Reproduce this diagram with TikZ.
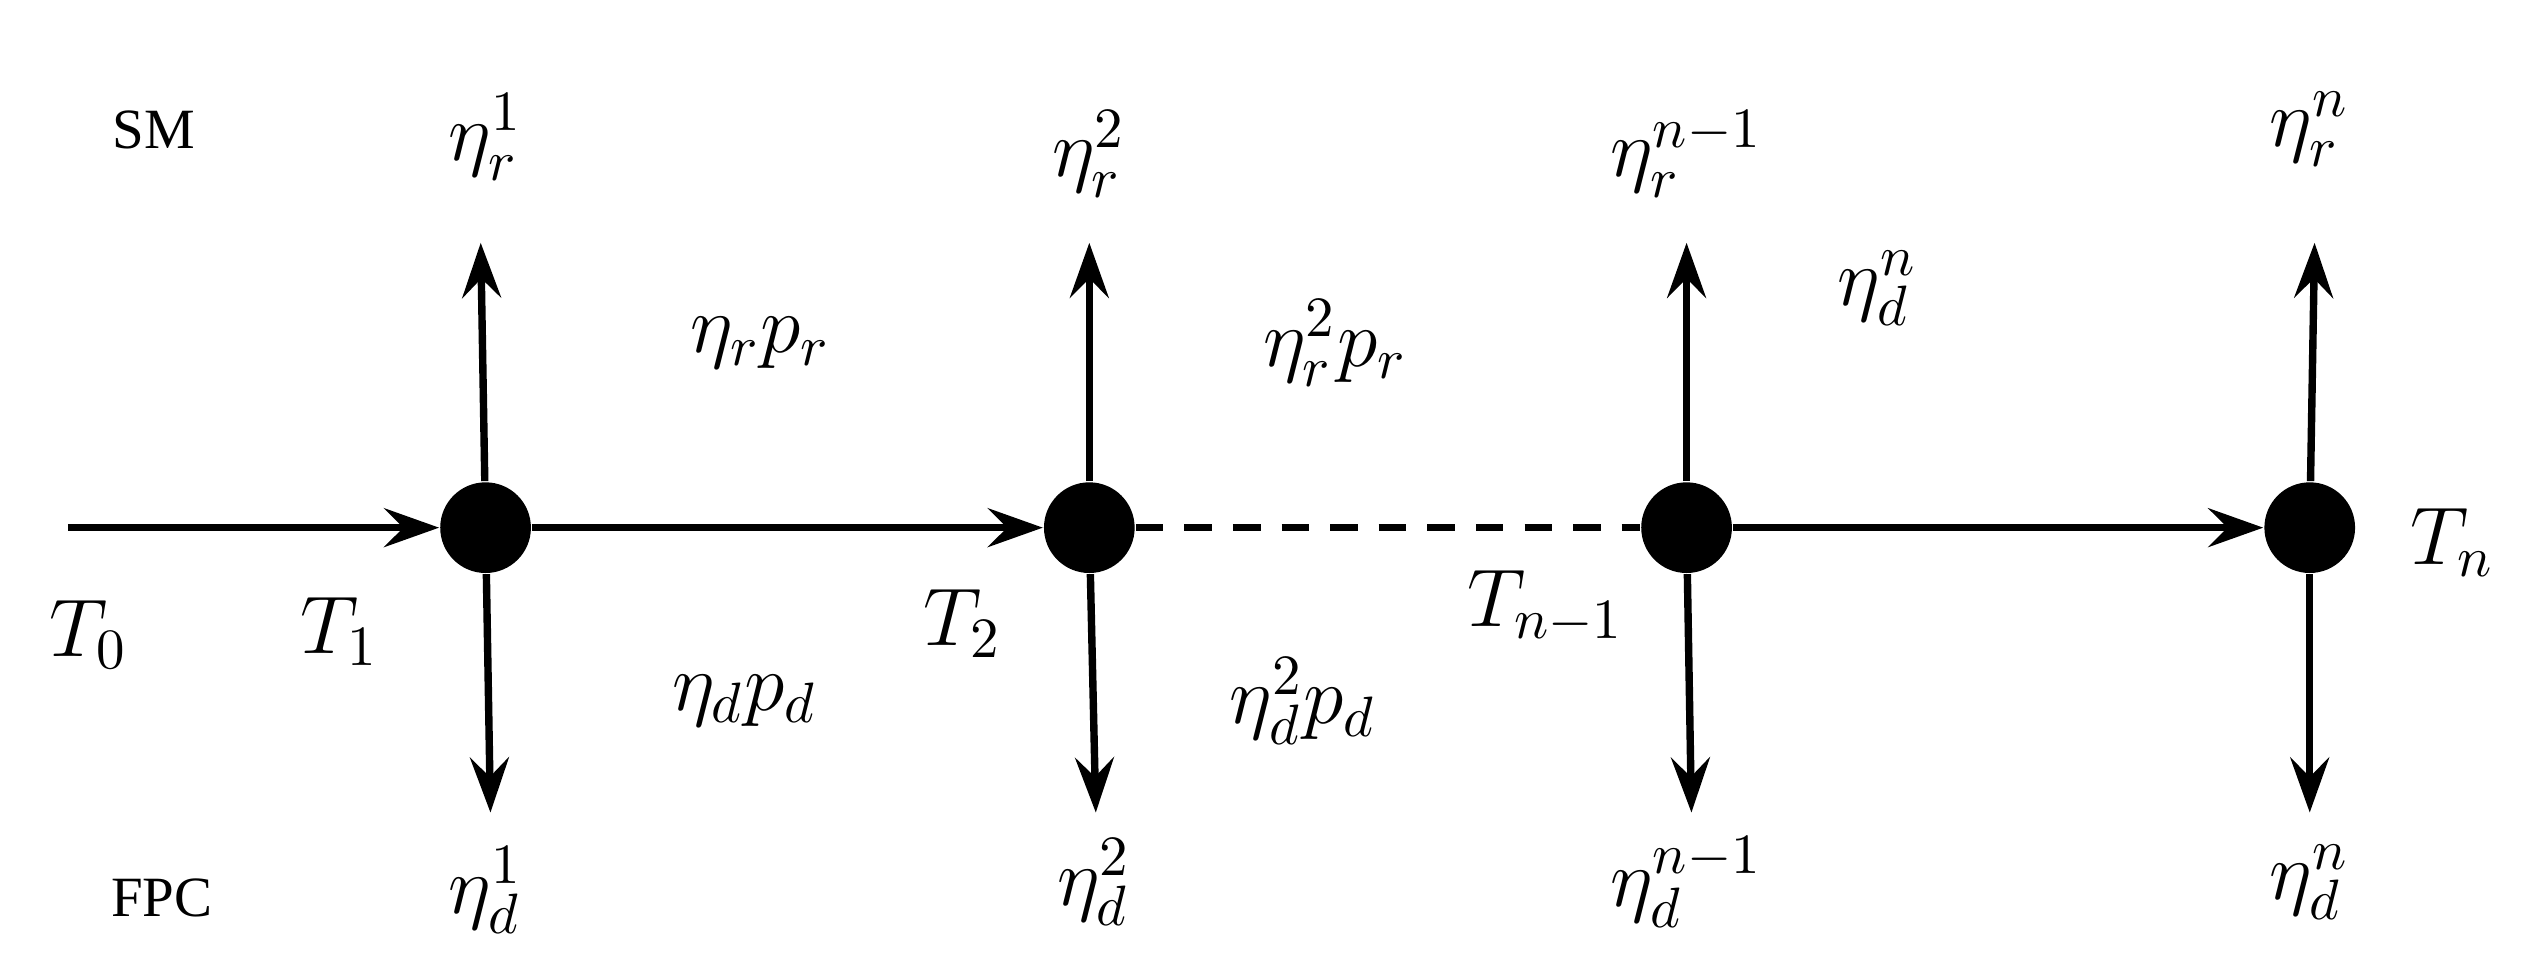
\documentclass[tikz,border=0pt]{standalone}
\usepackage{fontspec}
\setmainfont{Liberation Serif}
\usetikzlibrary{arrows.meta}
\begin{document}
\begin{tikzpicture}[x=0.01cm,y=-0.01cm,
  dot/.style={circle,fill=black,inner sep=0pt,minimum size=0.56cm},
  arr/.style={line width=1.3pt,-{Stealth[length=0.34cm,width=0.24cm,inset=0.12cm]}},
  lab/.style={font=\fontsize{14}{16}\selectfont,inner sep=1pt},
  side/.style={font=\rmfamily\fontsize{10}{12}\selectfont}]
\useasboundingbox (0,0) rectangle (1560,600);
\node[dot] (d1) at (300,326) {};
\node[dot] (d2) at (673,326) {};
\node[dot] (d3) at (1042,326) {};
\node[dot] (d4) at (1427,326) {};
\coordinate (s) at (42,326);
\foreach \i/\x/\ux/\lx in {1/300/297/303,2/673/673/677,3/1042/1042/1045,4/1427/1430/1427}{
  \coordinate (u\i) at (\ux,150);
  \coordinate (l\i) at (\lx,502);
  \draw[arr] (d\i) -- (u\i);
  \draw[arr] (d\i) -- (l\i);
}
\draw[arr] (s) -- (d1);
\draw[arr] (d1) -- (d2);
\draw[line width=1.3pt,dash pattern=on 0.17cm off 0.13cm] (d2) -- (d3);
\draw[arr] (d3) -- (d4);
\node[side] (sm) at (95,80) {SM};
\node[side] (fpc) at (100,555) {FPC};
\node[lab] (r1) at (300,85) {$\eta_r^1$};
\node[lab] (r2) at (673,95) {$\eta_r^2$};
\node[lab] (r3) at (1042,95) {$\eta_r^{n-1}$};
\node[lab] (r4) at (1427,80) {$\eta_r^n$};
\node[lab] (e1) at (300,550) {$\eta_d^1$};
\node[lab] (e2) at (676,545) {$\eta_d^2$};
\node[lab] (e3) at (1042,545) {$\eta_d^{n-1}$};
\node[lab] (e4) at (1427,545) {$\eta_d^n$};
\node[lab] (a) at (470,212) {$\eta_r p_r$};
\node[lab] (b) at (825,212) {$\eta_r^2 p_r$};
\node[lab] (c) at (1160,178) {$\eta_d^n$};
\node[lab] (d) at (460,433) {$\eta_d p_d$};
\node[lab] (e) at (805,433) {$\eta_d^2 p_d$};
\node[lab] (t0) at (55,392) {$T_0$};
\node[lab] (t1) at (210,390) {$T_1$};
\node[lab] (t2) at (595,385) {$T_2$};
\node[lab] (t3) at (955,375) {$T_{n-1}$};
\node[lab] (t4) at (1515,335) {$T_n$};
\end{tikzpicture}
\end{document}
